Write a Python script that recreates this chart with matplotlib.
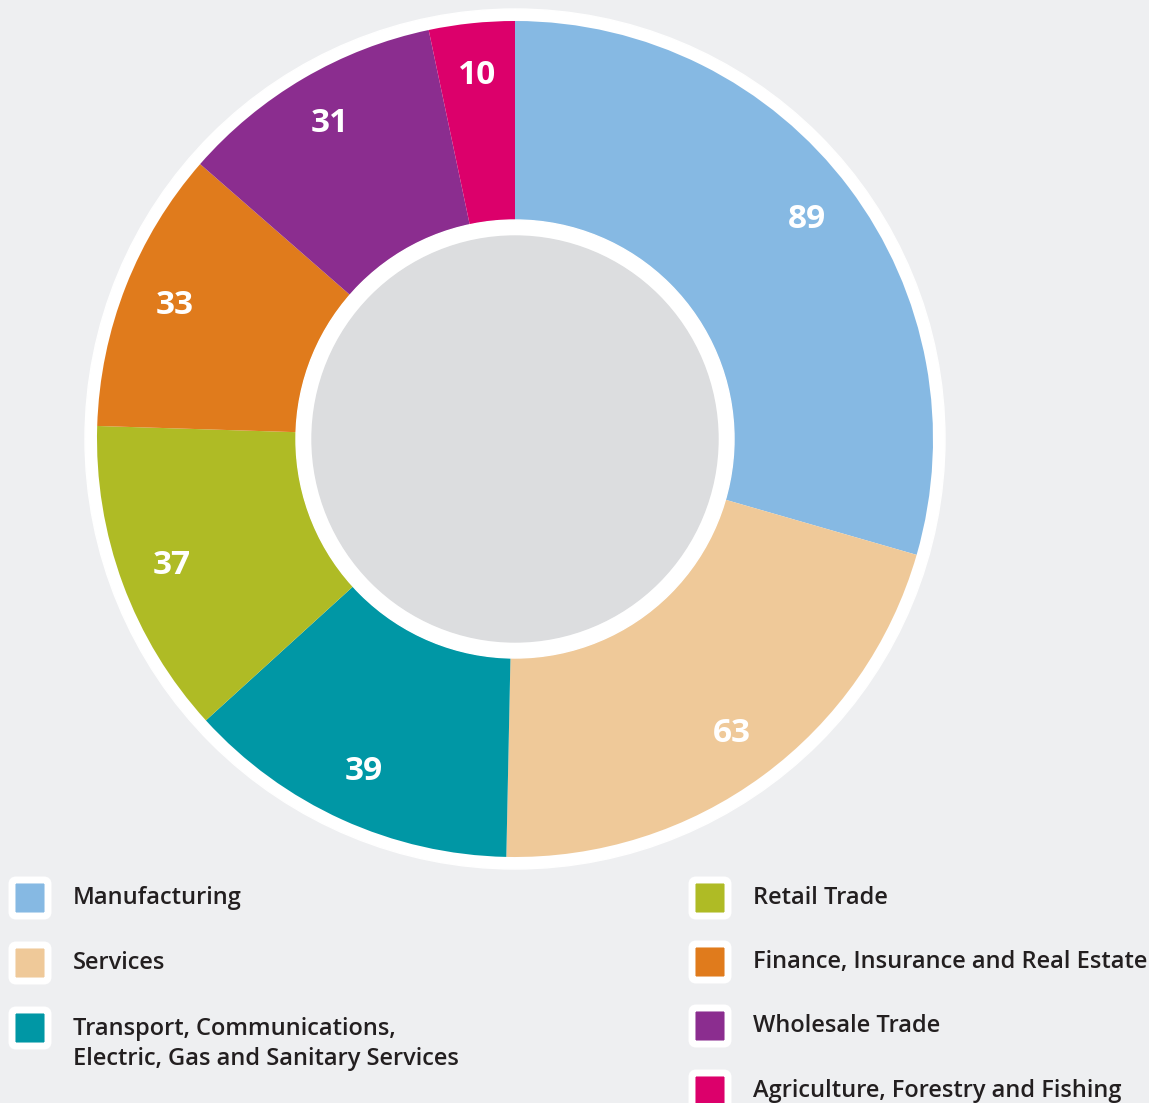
import matplotlib
matplotlib.use("Agg")
import matplotlib.pyplot as plt
from matplotlib.patches import Circle, FancyBboxPatch

# --- DATA ---
sectors = ["Manufacturing", "Services",
           "Transport, Communications,\nElectric, Gas and Sanitary Services",
           "Retail Trade", "Finance, Insurance and Real Estate",
           "Wholesale Trade", "Agriculture, Forestry and Fishing"]
counts = [89, 63, 39, 37, 33, 31, 10]
colors = ["#86b9e3", "#efc999", "#0097a5", "#afbb25",
          "#e07b1c", "#8b2d8f", "#dc006b"]

BG = "#eeeff1"
HOLE = "#dcdddf"
TXT = "#231f20"
FONT = "Open Sans"

W, H = 1149, 1103
fig = plt.figure(figsize=(W / 100, H / 100), dpi=100, facecolor=BG)
ax = fig.add_axes([0, 0, 1, 1])
ax.set_xlim(0, W)
ax.set_ylim(0, H)
ax.set_aspect("equal")
ax.axis("off")

cx, cy = 515, H - 439
r_out, r_in = 418, 219

# white ring round the donut
ax.add_patch(Circle((cx, cy), r_out + 12, color="white", zorder=1))

wedges, texts = ax.pie(counts, colors=colors, startangle=90, counterclock=False,
                       radius=r_out, center=(cx, cy),
                       labels=[str(c) for c in counts], labeldistance=0.875,
                       wedgeprops=dict(width=r_out - r_in, linewidth=0),
                       textprops=dict(color="white", fontsize=24, fontweight="bold",
                                      family=FONT, ha="center", va="center"))
for w in wedges:
    w.set_zorder(2)
for t in texts:
    t.set_zorder(5)

# hole: white ring then grey disk
ax.add_patch(Circle((cx, cy), r_in, color="white", zorder=3))
ax.add_patch(Circle((cx, cy), 203, color=HOLE, zorder=4))

ax.set_xlim(0, W)
ax.set_ylim(0, H)

# --- legend (two columns) ---
col_x = [30, 710]
text_x = [73, 753]
rows = [(0, 898), (0, 963), (0, 1028), (1, 898), (1, 962), (1, 1026), (1, 1091)]
for (col, y), name, c in zip(rows, sectors, colors):
    yy = H - y
    ax.add_patch(FancyBboxPatch((col_x[col] - 18, yy - 18), 36, 36,
                                boxstyle="round,pad=0,rounding_size=4",
                                facecolor=c, edgecolor="white", linewidth=5,
                                zorder=6))
    ax.text(text_x[col], yy + (0 if "\n" not in name else -16), name,
            ha="left", va="center" if "\n" not in name else "center",
            fontsize=17, fontweight="semibold", family=FONT, color=TXT,
            linespacing=1.35, zorder=6)

fig.savefig("out.png", dpi=100, facecolor=BG)
